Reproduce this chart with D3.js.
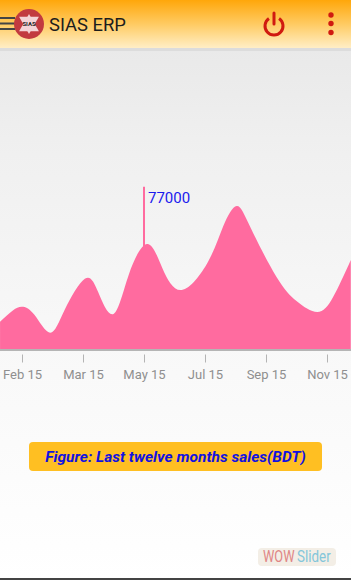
<!DOCTYPE html>
<html>
<head>
<meta charset="utf-8" />
<title>SIAS ERP</title>
<style>
html, body { margin: 0; padding: 0; width: 351px; height: 580px; overflow: hidden; background: #fff; }
svg { display: block; font-family: Roboto, sans-serif; }
</style>
</head>
<body>
<svg id="chart" width="351" height="580"></svg>
<script src="https://d3js.org/d3.v7.min.js"></script>
<script>
// tick positions along the axis, 0 = Feb 15
var tickLabels = ["Feb 15", "Mar 15", "May 15", "Jul 15", "Sep 15", "Nov 15"]
var tickSlots = [0, 1, 2, 3, 4, 5]

// sales
var slots = [-0.36, -0.15, 0, 0.2, 0.46, 0.7, 1.03, 1.25, 1.5, 1.75, 2.05, 2.3, 2.62, 3.05, 3.3, 3.52, 3.75, 4.17, 4.5, 4.84, 5.1, 5.39]
var sales = [20200, 28500, 31300, 25500, 12100, 29000, 52000, 42000, 25900, 55000, 77700, 60000, 43700, 64600, 91000, 105800, 89500, 53500, 35500, 27400, 38500, 65900]

var markerSlot = 2
var markerLabel = "77000"
var markerTop = 120000

var width = 351, height = 580
var svg = d3.select("#chart")
var defs = svg.append("defs")

var bg = defs.append("linearGradient").attr("id", "bg").attr("x2", 0).attr("y2", 1)
bg.append("stop").attr("offset", 0).attr("stop-color", "#e9e9e9")
bg.append("stop").attr("offset", 0.2).attr("stop-color", "#f0f0f0")
bg.append("stop").attr("offset", 0.55).attr("stop-color", "#f8f8f8")
bg.append("stop").attr("offset", 1).attr("stop-color", "#ffffff")

var head = defs.append("linearGradient").attr("id", "head").attr("x2", 0).attr("y2", 1)
head.append("stop").attr("offset", 0).attr("stop-color", "#ffa70a")
head.append("stop").attr("offset", 0.5).attr("stop-color", "#ffcb62")
head.append("stop").attr("offset", 1).attr("stop-color", "#ffeec6")

svg.append("rect").attr("y", 48).attr("width", width).attr("height", height - 48).attr("fill", "url(#bg)")

// chart
var x = d3.scaleLinear().domain([0, 5]).range([22, 327])
var y = d3.scaleLinear().domain([0, 120000]).range([349, 186.8])

var area = d3.area()
    .x(function(d, i) { return x(slots[i]) })
    .y0(y(0))
    .y1(function(d) { return y(d) })
    .curve(d3.curveNatural)

svg.append("path").datum(sales).attr("d", area).attr("fill", "#ff6b9f")

svg.append("line")
    .attr("x1", x(markerSlot)).attr("x2", x(markerSlot))
    .attr("y1", y(markerTop)).attr("y2", y(0))
    .attr("stroke", "#ff6b9f").attr("stroke-width", 2)

svg.append("text").attr("x", x(markerSlot) + 4).attr("y", 203)
    .attr("font-size", 15).attr("fill", "#1a1aee").text(markerLabel)

var xAxisCall = d3.axisBottom(x)
    .tickValues(tickSlots)
    .tickFormat(function(d, i) { return tickLabels[i] })
    .tickSize(13)
    .tickPadding(7)

var xAxis = svg.append("g").attr("transform", "translate(0,349.5)").call(xAxisCall)
xAxis.select(".domain").remove()
xAxis.selectAll("line").attr("y1", 5).attr("stroke", "#b4b4b4")
xAxis.selectAll("text").attr("font-size", 13).attr("font-family", "Roboto, sans-serif").attr("fill", "#8f8f8f")

svg.append("rect").attr("y", 349).attr("width", width).attr("height", 2).attr("fill", "#b5b5b5")

// caption
svg.append("rect").attr("x", 29).attr("y", 442).attr("width", 293).attr("height", 29).attr("rx", 4).attr("fill", "#ffbf22")
svg.append("text").attr("x", 175.5).attr("y", 462).attr("text-anchor", "middle")
    .attr("font-size", 15.5).attr("font-weight", 700).attr("font-style", "italic").attr("fill", "#1212e0")
    .text("Figure: Last twelve months sales(BDT)")

// watermark, squeezed since no narrow font is installed
svg.append("rect").attr("x", 258).attr("y", 548).attr("width", 78).attr("height", 18).attr("rx", 4).attr("fill", "#f3eee6")
svg.append("text").attr("transform", "translate(263,562) scale(0.8,1)").attr("font-size", 16)
    .attr("fill", "#e08585").text("WOW")
svg.append("text").attr("transform", "translate(297,562) scale(0.84,1)").attr("font-size", 16)
    .attr("fill", "#84c6da").text("Slider")

svg.append("rect").attr("y", 578).attr("width", width).attr("height", 2).attr("fill", "#444")

// app bar
svg.append("rect").attr("y", 48).attr("width", width).attr("height", 3).attr("fill", "#dcdcdc")
svg.append("rect").attr("width", width).attr("height", 48).attr("fill", "url(#head)")

svg.selectAll(".burger").data([18, 23.5, 29]).enter().append("rect")
    .attr("x", 0).attr("y", function(d) { return d - 1 }).attr("width", 15).attr("height", 2).attr("fill", "#444")

svg.append("circle").attr("cx", 29).attr("cy", 24).attr("r", 15).attr("fill", "#c23a3f")
var star = svg.append("g").attr("transform", "translate(29,24)")
star.append("path").attr("d", d3.symbol(d3.symbolTriangle, 170)).attr("fill", "#f4d3d6").attr("transform", "translate(0,1.5)")
star.append("path").attr("d", d3.symbol(d3.symbolTriangle, 170)).attr("fill", "#f4d3d6").attr("transform", "translate(0,-1.5) rotate(180)")
star.append("text").attr("y", 2).attr("text-anchor", "middle").attr("font-size", 6).attr("font-weight", 700).attr("fill", "#222").text("SIAS")

svg.append("text").attr("x", 49).attr("y", 30.5).attr("font-size", 18.4).attr("fill", "#1d1d1d").text("SIAS ERP")

// power button
var power = svg.append("g").attr("transform", "translate(274,26)").attr("fill", "none").attr("stroke", "#d01a10").attr("stroke-width", 3)
power.append("path").attr("d", d3.arc()({ innerRadius: 9, outerRadius: 9, startAngle: 0.6, endAngle: 2 * Math.PI - 0.6 }))
power.append("line").attr("y1", -13).attr("y2", -2).attr("stroke-linecap", "round")

svg.selectAll(".dot").data([15, 23.5, 32.5]).enter().append("circle")
    .attr("cx", 331).attr("cy", function(d) { return d }).attr("r", 2.7).attr("fill", "#d01a10")
</script>
</body>
</html>
